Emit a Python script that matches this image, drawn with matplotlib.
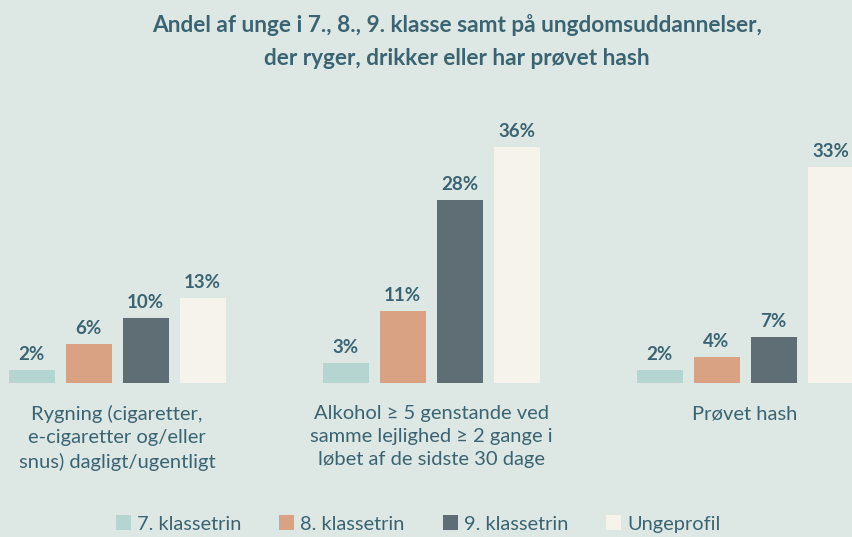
import matplotlib
matplotlib.use("Agg")
import matplotlib.pyplot as plt
from matplotlib.patches import Patch
import numpy as np

categories = ["Rygning (cigaretter,\ne-cigaretter og/eller\nsnus) dagligt/ugentligt",
              "Alkohol ≥ 5 genstande ved\nsamme lejlighed ≥ 2 gange i\nløbet af de sidste 30 dage",
              "Prøvet hash"]
series = ["7. klassetrin", "8. klassetrin", "9. klassetrin", "Ungeprofil"]
values = {
    "7. klassetrin": [2, 3, 2],
    "8. klassetrin": [6, 11, 4],
    "9. klassetrin": [10, 28, 7],
    "Ungeprofil": [13, 36, 33],
}
title = "Andel af unge i 7., 8., 9. klasse samt på ungdomsuddannelser,\nder ryger, drikker eller har prøvet hash"

colors = ["#b5d6d0", "#d9a383", "#5f6d74", "#f5f3ec"]
bg = "#dde7e3"
txt = "#3b6472"
font = ["Lato", "DejaVu Sans"]

W, H = 852, 537
fig = plt.figure(figsize=(W/100, H/100), dpi=100, facecolor=bg)
base_px = 383
top_px = 120
ax = fig.add_axes([0, 1 - base_px/H, 1, (base_px - top_px)/H])
ax.set_facecolor(bg)
ax.axis("off")

gsp = 314.0
x0 = 117.0
ax.set_xlim(-x0/gsp, (W - x0)/gsp)
px_per = 6.55
ax.set_ylim(0, (base_px - top_px)/px_per)

step = 57/gsp
width = 46/gsp
x = np.arange(len(categories))
for j, s in enumerate(series):
    pos = x + (j - 1.5)*step
    bars = ax.bar(pos, values[s], width=width, color=colors[j], clip_on=False)
    for b, v in zip(bars, values[s]):
        ax.annotate(f"{v}%", (b.get_x() + b.get_width()/2, v), xytext=(0, 5),
                    textcoords="offset points", ha="center", va="bottom",
                    fontsize=13.5, fontweight="bold", color=txt, family=font,
                    annotation_clip=False)

for i, c in enumerate(categories):
    ax.annotate(c, (i, 0), xytext=(0, -16), textcoords="offset points",
                ha="center", va="top", fontsize=14.5, color=txt, family=font,
                linespacing=1.42, annotation_clip=False)

fig.text(457/W, 1 - 14/H, title, ha="center", va="top", fontsize=16.3,
         fontweight="bold", color=txt, family=font, linespacing=1.68)

handles = [Patch(facecolor=colors[j], edgecolor="none", label=s) for j, s in enumerate(series)]
fig.legend(handles=handles, loc="center", bbox_to_anchor=(418/W, 1 - 524/H), ncol=4,
           frameon=False, handlelength=0.75, handleheight=0.75, handletextpad=0.3,
           columnspacing=1.9, prop={"family": font, "size": 14.4}, labelcolor=txt)

fig.savefig("out.png", dpi=100, facecolor=bg)
